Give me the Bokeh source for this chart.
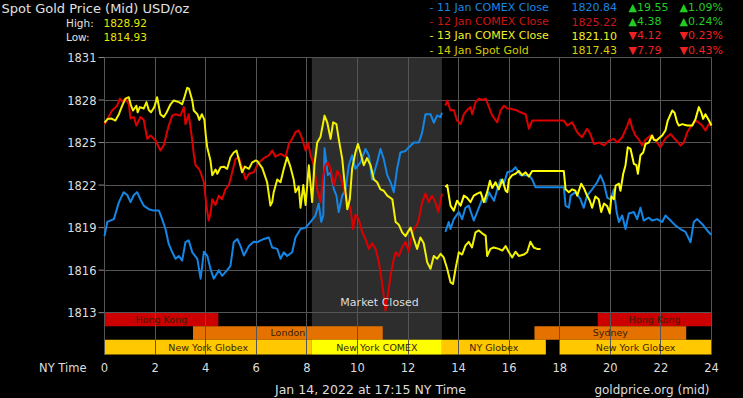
import numpy as np
from bokeh.plotting import figure
from bokeh.models import Range1d, FixedTicker, Label, Grid
from bokeh.embed import file_html
from bokeh.resources import INLINE
from bokeh.core.properties import value

# ---------------- data (NY time in hours, price USD/oz) ----------------
blue_a_h = [0.0, 0.11, 0.37, 0.57, 0.76, 0.9, 1.03, 1.16, 1.29, 1.42, 1.55, 1.75, 1.95, 2.15, 2.28, 2.41,
            2.54, 2.68, 2.81, 2.94, 3.07, 3.2, 3.33, 3.47, 3.67, 3.8, 3.93, 4.06, 4.19, 4.32, 4.52, 4.65,
            4.85, 4.98, 5.11, 5.25, 5.38, 5.51, 5.71, 5.9, 6.04, 6.3, 6.5, 6.63, 6.83, 6.96, 7.09, 7.22,
            7.42, 7.55, 7.75, 7.95, 8.15, 8.34, 8.47, 8.57, 8.65, 8.7, 8.83, 8.94, 9.07, 9.17, 9.26, 9.4,
            9.53, 9.66, 9.79, 9.92, 10.12, 10.32, 10.45, 10.58, 10.78, 10.91, 11.04, 11.18, 11.31, 11.44,
            11.57, 11.7, 11.9, 11.97, 12.23, 12.43, 12.56, 12.69, 12.89, 13.02, 13.15, 13.29, 13.34]
blue_a_p = [1818.4, 1819.4, 1819.6, 1820.8, 1821.5, 1821.3, 1820.8, 1821.3, 1821.5, 1821.0, 1820.55, 1820.3,
            1820.2, 1820.2, 1819.6, 1818.9, 1817.85, 1817.26, 1816.8, 1817.0, 1816.67, 1817.97, 1818.1,
            1817.26, 1816.8, 1815.4, 1817.3, 1817.03, 1816.1, 1815.4, 1816.0, 1815.6, 1816.0, 1816.3,
            1817.97, 1818.2, 1817.7, 1817.03, 1817.7, 1818.0, 1817.97, 1818.2, 1818.3, 1817.6, 1817.5,
            1816.8, 1817.26, 1817.0, 1817.26, 1818.3, 1818.9, 1819.0, 1819.4, 1819.85, 1820.7, 1819.4,
            1819.85, 1824.6, 1822.7, 1822.9, 1821.7, 1821.26, 1820.1, 1821.26, 1821.7, 1823.4, 1824.1,
            1823.15, 1823.6, 1824.55, 1824.1, 1822.4, 1823.6, 1824.55, 1823.85, 1822.7, 1822.2, 1821.5,
            1823.15, 1824.3, 1824.4, 1824.55, 1825.0, 1825.0, 1825.7, 1827.0, 1827.0, 1826.4, 1826.9,
            1826.8, 1827.1]
blue_b_h = [13.48, 13.61, 13.68, 13.81, 14.01, 14.14, 14.27, 14.4, 14.6, 14.8, 14.93, 15.07, 15.2, 15.4,
            15.53, 15.66, 15.79, 15.93, 16.12, 16.25, 16.45, 16.65, 16.78, 16.91, 17.04, 18.16, 18.23,
            18.36, 18.43, 18.62, 18.82, 18.95, 19.08, 19.28, 19.48, 19.61, 19.75, 19.88, 20.01, 20.14,
            20.25, 20.34, 20.47, 20.6, 20.73, 20.93, 21.06, 21.19, 21.32, 21.52, 21.65, 21.85, 22.05,
            22.18, 22.38, 22.58, 22.77, 22.97, 23.17, 23.3, 23.43, 23.63, 23.83, 23.96, 24.0]
blue_b_p = [1818.7, 1819.4, 1818.9, 1819.6, 1820.1, 1819.6, 1820.4, 1820.55, 1819.5, 1820.4, 1821.0,
            1820.8, 1821.5, 1820.9, 1821.7, 1822.4, 1822.1, 1822.9, 1823.0, 1823.26, 1822.7, 1822.7,
            1822.7, 1822.4, 1821.85, 1821.85, 1820.55, 1820.4, 1821.26, 1821.5, 1821.0, 1820.4, 1821.26,
            1821.7, 1822.2, 1822.7, 1822.1, 1821.1, 1821.0, 1821.7, 1820.1, 1819.4, 1819.85, 1818.9,
            1820.0, 1820.1, 1819.6, 1820.4, 1819.5, 1819.7, 1819.5, 1819.6, 1819.4, 1819.85, 1819.5,
            1819.14, 1818.9, 1818.7, 1817.97, 1819.4, 1819.6, 1819.26, 1818.8, 1818.55, 1818.5]

red_a_h = [0.0, 0.3, 0.5, 0.61, 0.7, 0.83, 0.96, 1.03, 1.16, 1.26, 1.42, 1.55, 1.69, 1.82, 2.02, 2.21,
           2.34, 2.54, 2.68, 2.81, 3.0, 3.14, 3.2, 3.33, 3.47, 3.53, 3.6, 3.73, 3.8, 3.93, 4.03, 4.12,
           4.19, 4.26, 4.39, 4.52, 4.65, 4.78, 4.92, 5.05, 5.18, 5.31, 5.44, 5.58, 5.71, 5.9, 6.1, 6.3,
           6.5, 6.63, 6.76, 6.96, 7.16, 7.29, 7.42, 7.55, 7.68, 7.81, 7.95, 8.05, 8.15, 8.28, 8.41, 8.54,
           8.65, 8.74, 8.83, 8.94, 9.07, 9.2, 9.33, 9.46, 9.6, 9.73, 9.83, 9.92, 10.05, 10.19, 10.32,
           10.45, 10.58, 10.72, 10.85, 10.95, 11.04, 11.11, 11.2, 11.31, 11.41, 11.51, 11.64, 11.77, 11.9,
           12.03, 12.1, 12.23, 12.36, 12.43, 12.56, 12.69, 12.82, 12.95, 13.08, 13.2, 13.28, 13.34]
red_a_p = [1826.27, 1827.26, 1827.6, 1828.1, 1827.9, 1828.1, 1827.7, 1826.7, 1826.8, 1826.2, 1826.8,
           1826.6, 1825.26, 1825.5, 1825.14, 1824.44, 1824.8, 1826.2, 1826.9, 1827.0, 1826.9, 1827.5,
           1826.3, 1827.0, 1825.14, 1824.2, 1823.4, 1823.15, 1822.9, 1822.2, 1820.55, 1819.5, 1820.0,
           1821.0, 1820.6, 1821.26, 1821.0, 1821.7, 1822.0, 1822.9, 1823.85, 1823.96, 1823.2, 1822.4,
           1822.8, 1822.9, 1823.6, 1823.9, 1824.1, 1824.44, 1824.0, 1824.2, 1824.0, 1824.9, 1825.26,
           1825.73, 1825.85, 1825.3, 1824.44, 1825.0, 1824.1, 1823.4, 1821.7, 1820.8, 1822.7, 1823.4,
           1823.6, 1823.15, 1821.97, 1823.0, 1822.6, 1821.7, 1821.0, 1820.3, 1818.9, 1819.9, 1819.6,
           1818.7, 1818.2, 1817.5, 1817.9, 1817.5, 1816.55, 1815.4, 1814.2, 1813.15, 1814.2, 1815.6,
           1816.55, 1817.26, 1817.0, 1817.6, 1818.0, 1817.3, 1818.0, 1818.9, 1819.2, 1819.6, 1820.8,
           1821.4, 1820.8, 1821.26, 1820.8, 1820.1, 1820.8, 1821.4]
red_b_h = [13.48, 13.55, 13.68, 13.81, 13.94, 14.08, 14.21, 14.34, 14.47, 14.54, 14.67, 14.8, 14.93,
           15.07, 15.2, 15.33, 15.53, 15.66, 15.79, 15.93, 16.05, 16.25, 16.45, 16.65, 16.78, 16.91,
           17.1, 18.16, 18.3, 18.49, 18.69, 18.88, 19.08, 19.21, 19.35, 19.55, 19.75, 19.95, 20.14,
           20.27, 20.47, 20.67, 20.77, 20.87, 20.99, 21.13, 21.26, 21.39, 21.59, 21.79, 21.98, 22.18,
           22.38, 22.58, 22.77, 22.9, 23.04, 23.17, 23.37, 23.5, 23.63, 23.76, 23.89, 24.0]
red_b_p = [1827.6, 1827.97, 1827.26, 1827.3, 1826.55, 1826.3, 1827.0, 1827.3, 1827.5, 1827.0, 1827.85,
           1828.1, 1828.0, 1828.1, 1827.5, 1826.9, 1826.43, 1827.26, 1827.6, 1827.4, 1827.38, 1827.3,
           1827.14, 1827.0, 1825.97, 1826.55, 1826.55, 1826.55, 1826.2, 1826.43, 1825.73, 1825.37,
           1825.97, 1825.6, 1824.9, 1825.0, 1824.8, 1825.14, 1825.26, 1825.0, 1825.37, 1826.2, 1826.67,
           1826.0, 1825.5, 1825.2, 1824.8, 1825.2, 1825.5, 1825.14, 1824.67, 1825.3, 1825.6, 1825.2,
           1824.8, 1825.0, 1825.73, 1826.1, 1826.55, 1826.4, 1826.2, 1825.85, 1826.3, 1826.2]

yellow_b_h = [13.48, 13.55, 13.68, 13.81, 13.94, 14.08, 14.21, 14.34, 14.47, 14.6, 14.74, 14.87, 15.0,
              15.13, 15.24, 15.33, 15.46, 15.59, 15.73, 15.86, 15.93, 15.99, 16.12, 16.25, 16.38, 16.51,
              16.65, 16.78, 16.91, 17.04, 18.16, 18.23, 18.36, 18.49, 18.62, 18.69, 18.85, 18.95, 19.08,
              19.19, 19.28, 19.41, 19.54, 19.64, 19.75, 19.88, 19.98, 20.04, 20.14, 20.21, 20.34, 20.4,
              20.51, 20.6, 20.69, 20.8, 20.93, 21.03, 21.09, 21.19, 21.3, 21.39, 21.52, 21.65, 21.72,
              21.83, 21.92, 22.05, 22.18, 22.27, 22.45, 22.54, 22.64, 22.71, 22.84, 23.04, 23.24, 23.37,
              23.5, 23.6, 23.67, 23.76, 23.89, 24.0]
yellow_b_p = [1821.85, 1822.0, 1820.55, 1820.2, 1820.9, 1820.55, 1821.26, 1821.1, 1820.8, 1821.26,
              1821.4, 1821.5, 1820.8, 1821.5, 1822.3, 1821.8, 1822.2, 1821.7, 1822.4, 1821.6, 1821.5,
              1822.4, 1822.7, 1822.8, 1823.0, 1822.7, 1822.9, 1822.6, 1823.0, 1823.0, 1823.0, 1821.7,
              1821.5, 1821.7, 1821.6, 1821.26, 1822.1, 1821.8, 1821.26, 1820.9, 1820.4, 1821.2, 1821.0,
              1820.1, 1820.7, 1820.5, 1820.0, 1821.2, 1821.0, 1821.97, 1822.1, 1821.6, 1822.8, 1823.4,
              1824.67, 1824.55, 1823.5, 1823.4, 1822.8, 1824.1, 1824.3, 1824.9, 1825.0, 1825.5, 1825.2,
              1825.14, 1825.3, 1825.5, 1825.85, 1826.55, 1827.26, 1827.1, 1826.43, 1826.2, 1826.3,
              1826.2, 1826.2, 1826.67, 1827.5, 1827.1, 1826.67, 1827.0, 1826.6, 1826.2]

spot_h = [0.0, 0.13, 0.26, 0.43, 0.57, 0.7, 0.83, 0.96, 1.05, 1.13, 1.26, 1.31, 1.4, 1.55, 1.66, 1.75,
          1.84, 1.97, 2.08, 2.21, 2.34, 2.45, 2.61, 2.74, 2.94, 3.07, 3.16, 3.27, 3.34, 3.47, 3.53, 3.67,
          3.75, 3.85, 3.95, 4.0, 4.06, 4.19, 4.26, 4.39, 4.46, 4.59, 4.72, 4.85, 4.98, 5.11, 5.22, 5.31,
          5.44, 5.55, 5.71, 5.84, 5.97, 6.04, 6.24, 6.43, 6.56, 6.63, 6.69, 6.83, 6.96, 7.09, 7.22, 7.35,
          7.48, 7.55, 7.68, 7.75, 7.86, 7.95, 8.08, 8.21, 8.3, 8.41, 8.54, 8.7, 8.81, 8.94, 9.04, 9.17,
          9.26, 9.4, 9.49, 9.6, 9.7, 9.79, 9.92, 10.02, 10.12, 10.25, 10.38, 10.52, 10.65, 10.78, 10.91,
          11.04, 11.18, 11.38, 11.51, 11.64, 11.77, 11.9, 12.1, 12.23, 12.36, 12.49, 12.62, 12.76, 12.89,
          13.02, 13.15, 13.29, 13.41, 13.55, 13.68, 13.78, 13.88, 14.01, 14.14, 14.27, 14.4, 14.53, 14.67,
          14.8, 14.93, 15.07, 15.13, 15.26, 15.39, 15.59, 15.73, 15.86, 15.99, 16.12, 16.25, 16.38, 16.58,
          16.71, 16.84, 16.97, 17.1, 17.24]
spot_p = [1826.4, 1826.67, 1826.7, 1826.55, 1827.0, 1827.6, 1828.1, 1828.2, 1827.6, 1827.26, 1827.6,
          1827.14, 1827.5, 1827.4, 1827.85, 1827.3, 1827.14, 1827.5, 1828.2, 1827.0, 1826.8, 1827.1,
          1827.7, 1827.97, 1827.85, 1827.7, 1828.2, 1828.86, 1828.8, 1827.97, 1827.26, 1827.0, 1826.6,
          1827.0, 1826.6, 1825.6, 1824.67, 1823.73, 1822.7, 1823.1, 1822.8, 1823.26, 1823.3, 1823.15,
          1823.96, 1824.3, 1824.44, 1823.8, 1822.9, 1823.3, 1823.15, 1823.6, 1823.73, 1823.7, 1823.2,
          1822.2, 1820.55, 1820.8, 1821.5, 1822.4, 1822.2, 1823.15, 1823.96, 1823.3, 1822.4, 1821.5,
          1821.9, 1820.4, 1822.0, 1820.6, 1823.4, 1820.8, 1823.4, 1825.0, 1825.4, 1826.9, 1826.4,
          1825.26, 1826.43, 1826.3, 1825.26, 1823.85, 1822.2, 1820.3, 1821.0, 1823.15, 1824.3, 1824.9,
          1824.3, 1823.4, 1823.9, 1823.4, 1822.4, 1822.2, 1821.7, 1821.6, 1821.26, 1821.0, 1819.4,
          1819.2, 1818.67, 1818.4, 1819.0, 1818.2, 1817.5, 1818.3, 1817.9, 1816.55, 1816.1, 1817.0,
          1816.8, 1817.15, 1816.9, 1816.1, 1815.14, 1815.03, 1816.1, 1817.26, 1817.1, 1817.73, 1818.0,
          1817.6, 1818.67, 1818.8, 1818.6, 1818.44, 1817.0, 1817.5, 1817.6, 1817.5, 1817.38, 1817.7,
          1817.26, 1816.9, 1817.3, 1817.0, 1817.1, 1817.26, 1818.0, 1817.6, 1817.5, 1817.5]

legend_names = ["- 11 Jan COMEX Close", "- 12 Jan COMEX Close", "- 13 Jan COMEX Close", "- 14 Jan Spot Gold"]
legend_prices = ["1820.84", "1825.22", "1821.10", "1817.43"]
legend_changes = ["\u25b219.55", "\u25b24.38", "\u25bc4.12", "\u25bc7.79"]
legend_pcts = ["\u25b21.09%", "\u25b20.24%", "\u25bc0.23%", "\u25bc0.43%"]
legend_up = [True, True, False, False]
day_high = "1828.92"
day_low = "1814.93"

session_names = ["Hong Kong", "Hong Kong", "London", "Sydney",
                 "New York Globex", "New York COMEX", "NY Globex", "New York Globex"]
session_start = [0.0, 19.5, 3.5, 17.0, 0.0, 8.2, 13.34, 18.0]
session_end = [4.5, 24.0, 11.0, 23.0, 8.2, 13.34, 17.45, 24.0]
session_row = [0, 0, 1, 1, 2, 2, 2, 2]
closed_start = 8.2
closed_end = 13.34

x_ticks = list(range(0, 25, 2))
y_ticks = [1813, 1816, 1819, 1822, 1825, 1828, 1831]

# ---------------- layout / styling ----------------
FONT = "DejaVu Sans"
C_BLUE = "#1486e6"
C_RED = "#dd0000"
C_YEL = "#ffff00"
C_SPOT = "#f2f200"
GRID = "#555555"
AXIS = "#8a8a8a"
TXT = "#dddddd"

W, H = 743, 398
FL, FR, FT, FB = 104, 711, 57, 354        # chart area in canvas pixels
X0, X1 = 0.0, 24.0
Y0, Y1 = 1810.05, 1831.0
kx = (FR - FL) / (X1 - X0)
ky = (FB - FT) / (Y1 - Y0)
XS, XE = X0 - FL / kx, X1 + (W - FR) / kx
YS, YE = Y0 - (H - FB) / ky, Y1 + FT / ky


def hx(px):  # canvas px -> hours (for text placement)
    return X0 + (px - FL) / kx


def py_(py):  # canvas px -> price (for text placement)
    return Y1 - (py - FT) / ky


row_edges = [1813.0, 1812.05, 1811.09, Y0]
session_colors = {"Hong Kong": "#cc0000", "London": "#e57200", "Sydney": "#e57200",
                  "New York Globex": "#ffc800", "NY Globex": "#ffc800", "New York COMEX": "#ffff00"}

p = figure(width=W, height=H, min_border=0, x_range=Range1d(XS, XE), y_range=Range1d(YS, YE),
           x_axis_type=None, y_axis_type=None, output_backend="svg", toolbar_location=None,
           background_fill_color="black", border_fill_color="black", outline_line_color=None)

# market closed shading
p.quad(left=[closed_start], right=[closed_end], bottom=[Y0], top=[Y1],
       fill_color="#2d2d2d", line_color=None, level="image")

# session bars
tops = [row_edges[r] for r in session_row]
bots = [row_edges[r + 1] for r in session_row]
p.quad(left=session_start, right=session_end, bottom=bots, top=tops,
       fill_color=[session_colors[n] for n in session_names], line_color=None, level="image")

# grid lines restricted to the chart area
try:
    vg = Grid(dimension=0, ticker=FixedTicker(ticks=x_ticks), bounds=(X0, X1), cross_bounds=(Y0, Y1),
              grid_line_color=GRID, grid_line_width=1)
    hg = Grid(dimension=1, ticker=FixedTicker(ticks=y_ticks), bounds=(1813, Y1), cross_bounds=(X0, X1),
              grid_line_color=GRID, grid_line_width=1)
    p.add_layout(vg)
    p.add_layout(hg)
except Exception:
    p.segment(x0=x_ticks, y0=[Y0] * len(x_ticks), x1=x_ticks, y1=[Y1] * len(x_ticks),
              line_color=GRID, line_width=1, level="underlay")
    p.segment(x0=[X0] * len(y_ticks), y0=y_ticks, x1=[X1] * len(y_ticks), y1=y_ticks,
              line_color=GRID, line_width=1, level="underlay")

# left axis rule, ticks and labels
p.segment(x0=[X0], y0=[Y0], x1=[X0], y1=[Y1], line_color=AXIS, line_width=1, level="underlay")
p.segment(x0=[hx(FL - 6)] * len(y_ticks), y0=y_ticks, x1=[X0] * len(y_ticks), y1=y_ticks,
          line_color=AXIS, line_width=1, level="underlay")
p.text(x=[hx(FL - 8)] * len(y_ticks), y=y_ticks, text=[str(t) for t in y_ticks],
       text_font=value(FONT), text_font_size=value("11.5px"), text_color=TXT,
       text_align="right", text_baseline="middle")
# bottom axis labels
p.text(x=x_ticks, y=[py_(367)] * len(x_ticks), text=[str(t) for t in x_ticks],
       text_font=value(FONT), text_font_size=value("11.5px"), text_color=TXT,
       text_align="center", text_baseline="middle")

# session labels
p.text(x=[(a + b) / 2 for a, b in zip(session_start, session_end)],
       y=[(t + b) / 2 for t, b in zip(tops, bots)], text=session_names,
       text_font=value(FONT), text_font_size=value("9.5px"), text_color="#3a1e00",
       text_align="center", text_baseline="middle")

# price lines
for h, pr, c in [(blue_a_h, blue_a_p, C_BLUE), (blue_b_h, blue_b_p, C_BLUE),
                 (red_a_h, red_a_p, C_RED), (red_b_h, red_b_p, C_RED),
                 (yellow_b_h, yellow_b_p, C_YEL), (spot_h, spot_p, C_SPOT)]:
    p.line(h, pr, line_color=c, line_width=2, line_join="round")


def lab(px, pyv, text, color, size, align="left"):
    p.add_layout(Label(x=hx(px), y=py_(pyv), text=text, text_color=color, text_font=FONT,
                       text_font_size=size, text_align=align, text_baseline="middle"))


# header
lab(1, 8, "Spot Gold Price (Mid) USD/oz", "#e0e0e0", "13px")
lab(65.5, 22.5, "High:", "#e0e0e0", "10.5px")
lab(103, 22.5, day_high, "#e6e600", "10.5px")
lab(65.5, 36.5, "Low:", "#e0e0e0", "10.5px")
lab(103, 36.5, day_low, "#e6e600", "10.5px")

# legend block
row_y = [6.5, 21, 35, 49.5]
name_cols = ["#1a86e0", "#cc1515", "#f0f028", "#d8cc00"]
for i in range(4):
    lab(429, row_y[i], legend_names[i], name_cols[i], "11px")
    lab(571, row_y[i], legend_prices[i], name_cols[i], "11px")
    cc = "#22cc22" if legend_up[i] else "#ee2020"
    lab(628, row_y[i], legend_changes[i], cc, "11px")
    lab(679, row_y[i], legend_pcts[i], cc, "11px")

lab(379, 302, "Market Closed", TXT, "11px", "center")
lab(86, 367, "NY Time", TXT, "11.5px", "right")
lab(370, 389, "Jan 14, 2022 at 17:15 NY Time", TXT, "12.5px", "center")
lab(709, 389, "goldprice.org (mid)", TXT, "12px", "right")

html = file_html(p, INLINE)
html = html.replace("<body>", '<body style="background:#000000">')
open("out.html", "w").write(html)
